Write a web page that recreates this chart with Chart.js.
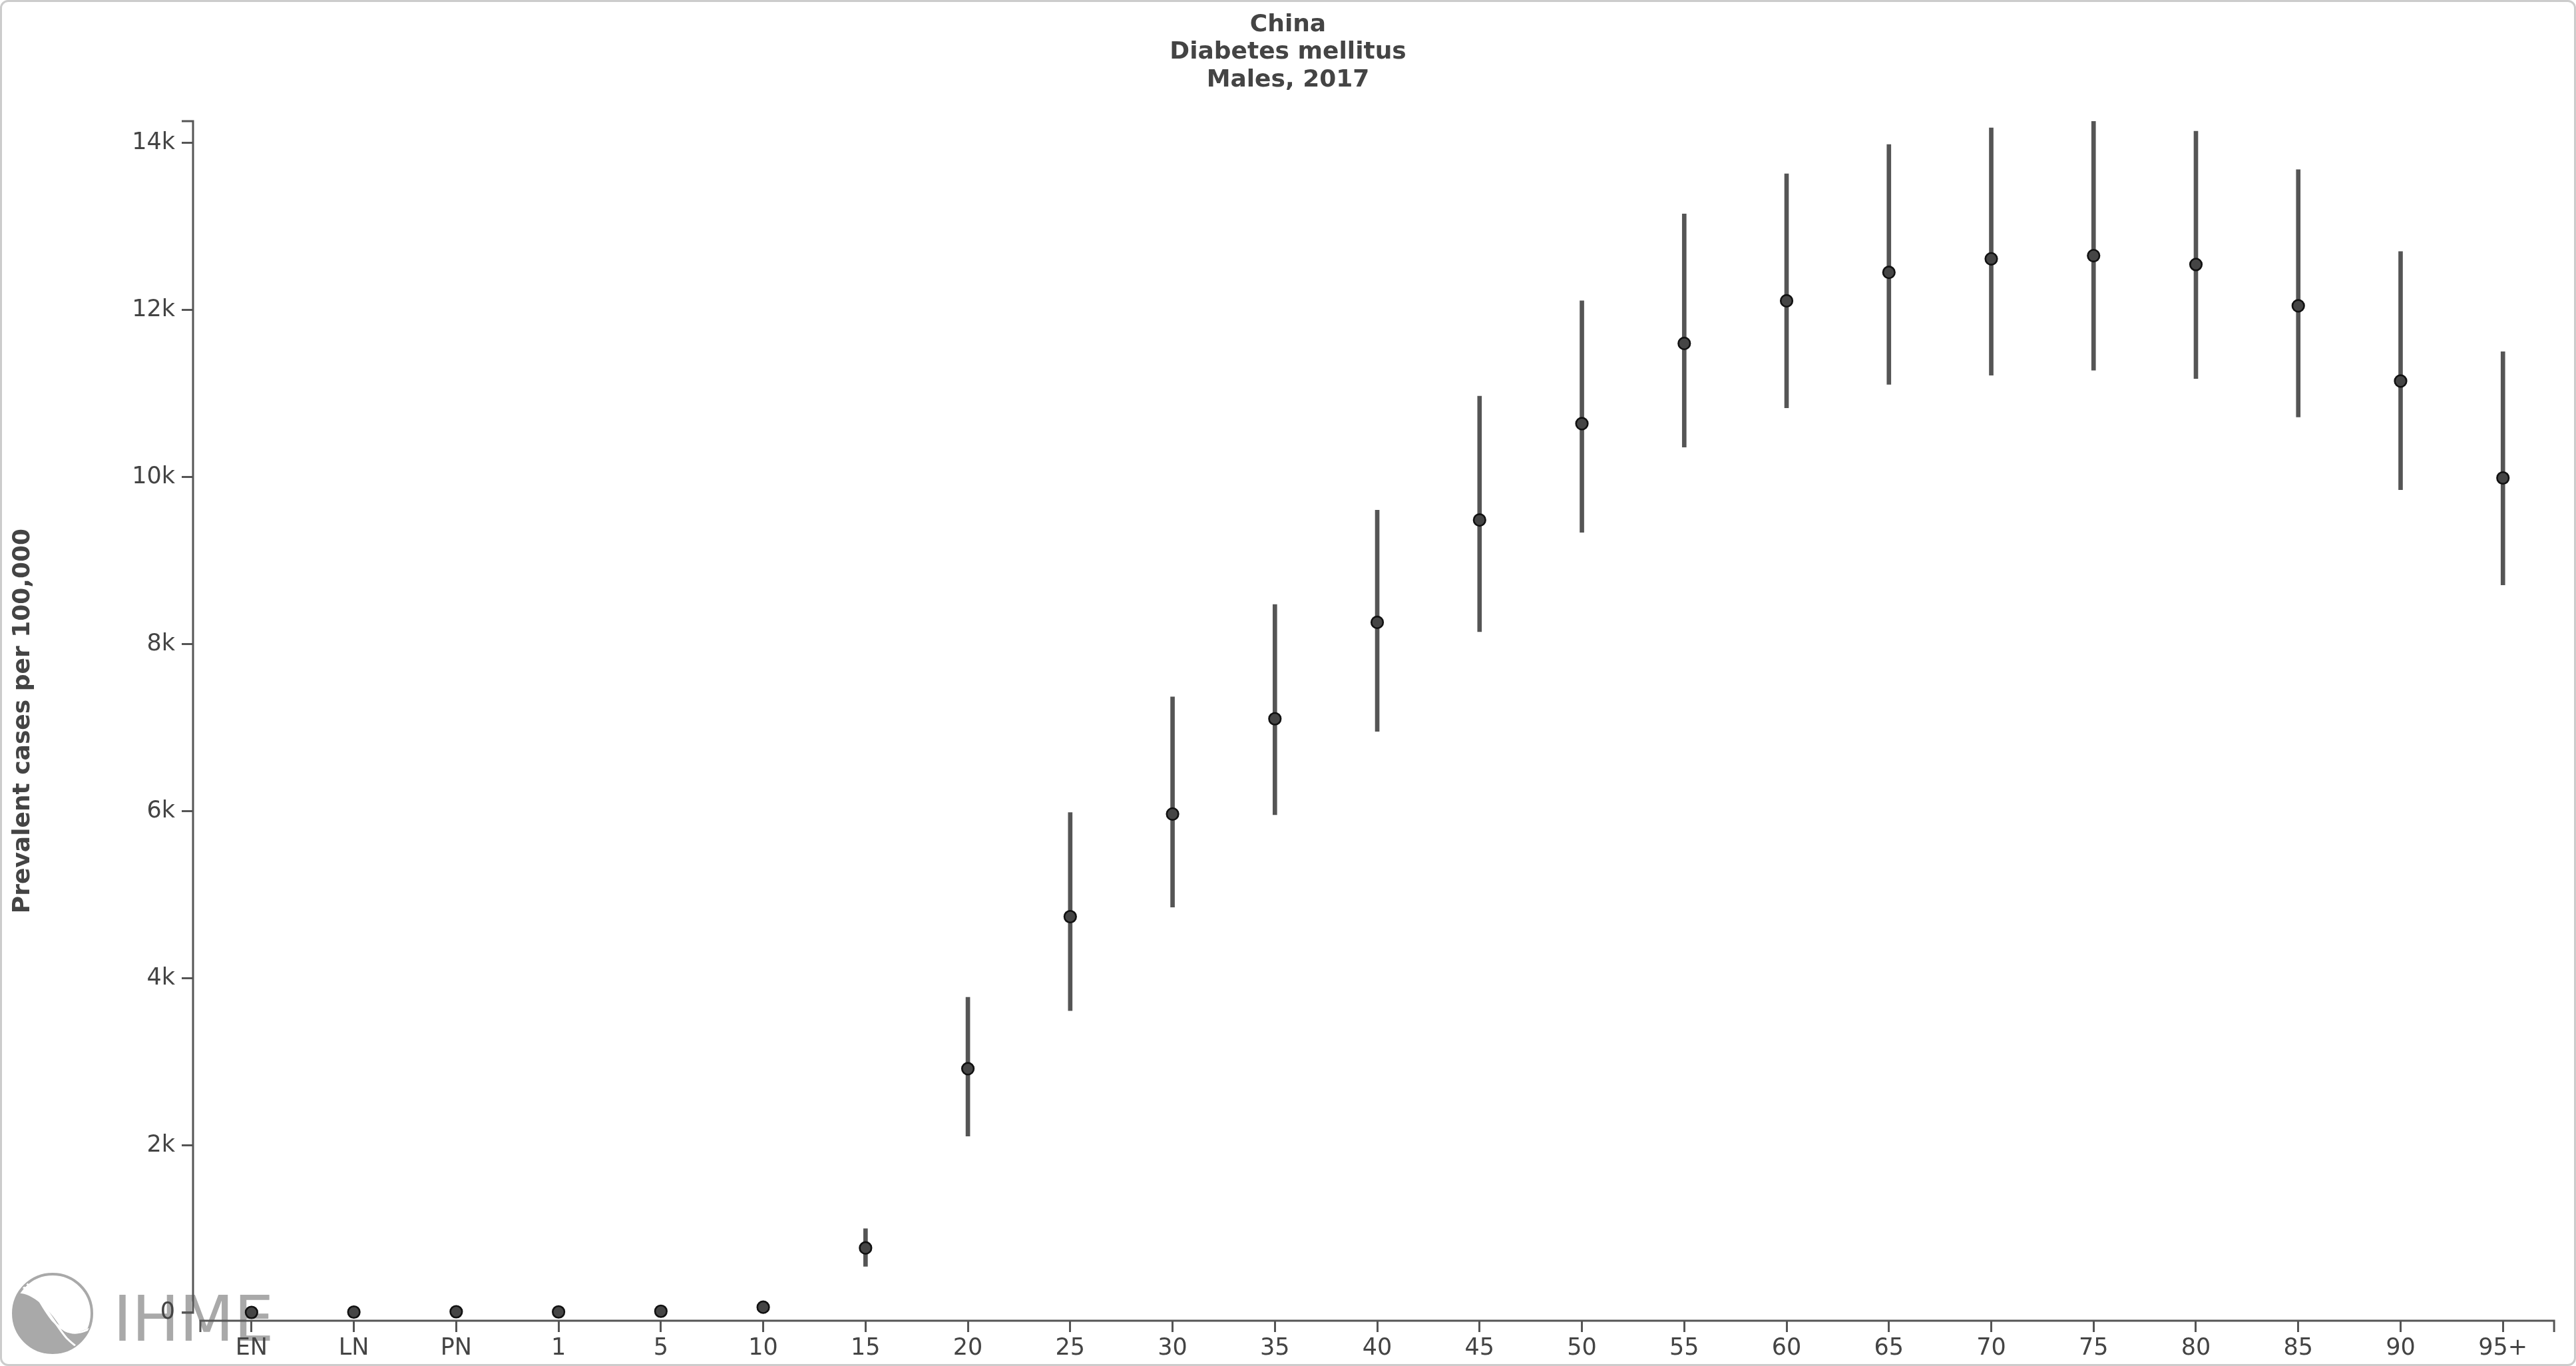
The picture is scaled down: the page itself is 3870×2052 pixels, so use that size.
<!DOCTYPE html>
<html>
<head>
<meta charset="utf-8">
<script src="https://cdn.jsdelivr.net/npm/chart.js@4.4.1/dist/chart.umd.min.js"></script>
<style>
  html, body { margin: 0; padding: 0; background: #ffffff; overflow: hidden; }
  #wrap { position: relative; width: 3870px; height: 2052px; }
  #logo { position: absolute; left: 0; top: 0; width: 3870px; height: 2052px; z-index: 0; }
  #chart { position: absolute; left: 0; top: 0; z-index: 1; }
  #frame { position: absolute; left: 0; top: 0; width: 3870px; height: 2052px; box-sizing: border-box;
           border: 3px solid #cccccc; border-radius: 12px; z-index: 2; pointer-events: none; }
</style>
</head>
<body>
<div id="wrap">
  <svg id="logo" width="3870" height="2052" xmlns="http://www.w3.org/2000/svg">
    <defs>
      <clipPath id="lc"><circle cx="79" cy="1973" r="59"/></clipPath>
    </defs>
    <circle cx="79" cy="1973" r="59" fill="none" stroke="#a9a9a9" stroke-width="4"/>
    <g clip-path="url(#lc)">
      <path d="M18 1945 C 40 1935, 70 1960, 92 1995 C 100 2008, 120 2002, 145 1990 L 145 2040 L 18 2040 Z" fill="#a9a9a9"/>
      <path d="M30 1932 C 60 1940, 78 1985, 100 2010 C 110 2020, 118 2025, 124 2030" fill="none" stroke="#ffffff" stroke-width="3"/>
      <path d="M40 1928 C 62 1948, 70 1990, 105 2001 C 118 2005, 130 1998, 142 1993" fill="none" stroke="#ffffff" stroke-width="3"/>
    </g>
    <text x="170" y="2014" font-family="DejaVu Sans" font-size="95" fill="#a9a9a9">IHME</text>
  </svg>
  <canvas id="chart" width="3870" height="2052"></canvas>
  <div id="frame"></div>
</div>
<script>
// ---- data ----
const ageGroups = ['EN','LN','PN','1','5','10','15','20','25','30','35','40','45','50','55','60','65','70','75','80','85','90','95+'];
const meanValues  = [4, 8, 12, 10, 18, 66, 775, 2920, 4740, 5968, 7108, 8262, 9487, 10640, 11600, 12110, 12450, 12612, 12650, 12545, 12050, 11150, 9990];
const lowerValues = [2, 5, 8, 6, 12, 50, 555, 2114, 3615, 4855, 5960, 6958, 8150, 9340, 10360, 10830, 11110, 11220, 11280, 11180, 10720, 9850, 8710];
const upperValues = [6, 11, 16, 14, 25, 85, 1006, 3775, 5987, 7370, 8475, 9604, 10970, 12110, 13150, 13630, 13980, 14180, 14260, 14140, 13680, 12700, 11500];
const yTickValues = [0, 2000, 4000, 6000, 8000, 10000, 12000, 14000];
const yTickLabels = ['0', '2k', '4k', '6k', '8k', '10k', '12k', '14k'];
const titleLines = ['China', 'Diabetes mellitus', 'Males, 2017'];
const yAxisTitle = 'Prevalent cases per 100,000';

// ---- styling ----
const FONT = 'DejaVu Sans';
const TEXT = '#444444';
const AXIS = '#555555';
const TICK_LEN = 17;

const pointData = meanValues.map((v, i) => ({ x: i, y: v }));
const barData = ageGroups.map((_, i) => ({ x: i, y: [lowerValues[i], upperValues[i]] }));
const yDomainMax = Math.max(...upperValues);

const domainPlugin = {
  id: 'domainPaths',
  beforeDatasetsDraw(chart) {
    const { ctx, chartArea } = chart;
    const xs = chart.scales.x, ys = chart.scales.y;
    ctx.save();
    ctx.strokeStyle = AXIS;
    ctx.lineWidth = 3;
    ctx.lineCap = 'butt';
    // y domain
    const yl = chartArea.left;
    const yTop = ys.getPixelForValue(yDomainMax);
    const y0 = ys.getPixelForValue(0);
    ctx.beginPath();
    ctx.moveTo(yl - TICK_LEN, yTop);
    ctx.lineTo(yl, yTop);
    ctx.lineTo(yl, y0);
    ctx.lineTo(yl - TICK_LEN, y0);
    ctx.stroke();
    // x domain
    const xb = chartArea.bottom;
    const xl = xs.getPixelForValue(-0.5);
    const xr = xs.getPixelForValue(ageGroups.length - 0.5);
    ctx.beginPath();
    ctx.moveTo(xl, xb + TICK_LEN);
    ctx.lineTo(xl, xb);
    ctx.lineTo(xr, xb);
    ctx.lineTo(xr, xb + TICK_LEN);
    ctx.stroke();
    ctx.restore();
  }
};

new Chart(document.getElementById('chart'), {
  type: 'scatter',
  data: {
    datasets: [
      {
        type: 'scatter',
        data: pointData,
        pointRadius: 8.8,
        pointHoverRadius: 8.8,
        pointBackgroundColor: '#454545',
        pointBorderColor: '#111111',
        pointBorderWidth: 2.6,
        order: 0
      },
      {
        type: 'bar',
        data: barData,
        backgroundColor: '#555555',
        borderWidth: 0,
        barThickness: 6,
        grouped: false,
        order: 1
      }
    ]
  },
  options: {
    responsive: false,
    animation: false,
    devicePixelRatio: 1,
    layout: { autoPadding: false, padding: { left: 0, right: 0, top: 0, bottom: 0 } },
    plugins: {
      legend: { display: false },
      tooltip: { enabled: false },
      title: {
        display: true,
        text: titleLines,
        color: TEXT,
        font: { family: FONT, size: 36, weight: 'bold', lineHeight: 1.15 },
        padding: { top: 17, bottom: 40.8 }
      }
    },
    scales: {
      x: {
        type: 'linear',
        position: 'bottom',
        offset: false,
        min: -0.5716,
        max: 22.714,
        afterBuildTicks: (s) => { s.ticks = ageGroups.map((_, i) => ({ value: i })); },
        afterFit: (s) => { s.height = 68; s.paddingLeft = 0; s.paddingRight = 0; },
        grid: { drawOnChartArea: false, drawTicks: true, tickLength: TICK_LEN, color: AXIS, lineWidth: 3, offset: false },
        border: { display: false },
        ticks: {
          autoSkip: false, maxRotation: 0, minRotation: 0, padding: 4,
          color: TEXT, font: { family: FONT, size: 35 },
          callback: (v) => ageGroups[v]
        }
      },
      y: {
        type: 'linear',
        position: 'left',
        min: -95.6,
        max: yDomainMax,
        afterBuildTicks: (s) => { s.ticks = yTickValues.map(v => ({ value: v })); },
        afterFit: (s) => { s.width = 290; s.paddingTop = 0; s.paddingBottom = 0; },
        grid: { drawOnChartArea: false, drawTicks: true, tickLength: TICK_LEN, color: AXIS, lineWidth: 3 },
        border: { display: false },
        ticks: {
          padding: 10, color: TEXT, font: { family: FONT, size: 35 },
          callback: (v) => yTickLabels[yTickValues.indexOf(v)]
        },
        title: {
          display: true, text: yAxisTitle, color: TEXT,
          font: { family: FONT, size: 36, weight: 'bold' },
          padding: { top: 13, bottom: 0 }
        }
      }
    }
  },
  plugins: [domainPlugin]
});
</script>
</body>
</html>
